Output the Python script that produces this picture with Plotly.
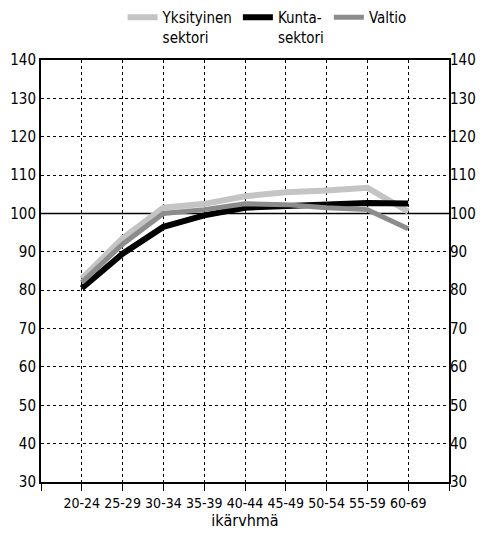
import plotly.graph_objects as go

categories = ["20-24", "25-29", "30-34", "35-39", "40-44", "45-49", "50-54", "55-59", "60-69"]
yksityinen = [83, 93.5, 101.5, 102.5, 104.5, 105.5, 106, 106.7, 100.5]
kunta = [80.5, 89.5, 96.5, 99.5, 101.5, 102, 102.3, 102.7, 102.6]
valtio = [82, 92, 100, 101, 102.5, 102.3, 101.5, 101, 96]
yticks = list(range(30, 141, 10))

xpos = list(range(1, len(categories) + 1))
FONT = "Liberation Sans Narrow, DejaVu Sans Condensed, Arial Narrow, Liberation Sans, Arial, sans-serif"

fig = go.Figure()
fig.add_trace(go.Scatter(x=xpos, y=yksityinen, mode="lines", name="Yksityinen<br>sektori",
                         line=dict(color="#c4c4c4", width=6)))
fig.add_trace(go.Scatter(x=xpos, y=kunta, mode="lines", name="Kunta-<br>sektori",
                         line=dict(color="#000000", width=6)))
fig.add_trace(go.Scatter(x=xpos, y=valtio, mode="lines", name="Valtio",
                         line=dict(color="#8c8c8c", width=5)))
fig.add_trace(go.Scatter(x=xpos, y=kunta, mode="lines", yaxis="y2", showlegend=False,
                         line=dict(width=0), opacity=0, hoverinfo="skip"))

fig.add_hline(y=100, line=dict(color="black", width=1.5), layer="below")

tickvals = [0] + xpos + [len(categories) + 1]
ticktext = [""] + categories + [""]

fig.update_layout(
    width=468, height=522,
    margin=dict(l=33, r=27, t=52, b=48, autoexpand=False),
    paper_bgcolor="white", plot_bgcolor="white",
    font=dict(family=FONT, size=14, color="black"),
    showlegend=True,
    legend=dict(orientation="h", x=0.2, y=1.14, xanchor="left", yanchor="top",
                valign="top", font=dict(size=15), itemwidth=30, tracegroupgap=0,
                bgcolor="rgba(0,0,0,0)"),
    xaxis=dict(range=[0, len(categories) + 1], tickvals=tickvals, ticktext=ticktext,
               showgrid=True, gridcolor="black", griddash="dot", gridwidth=1,
               ticks="outside", ticklen=7, tickcolor="black",
               showline=True, linecolor="black", linewidth=2, mirror=True,
               zeroline=False, tickfont=dict(size=14),
               title=dict(text="ikärvhmä", font=dict(size=16), standoff=10)),
    yaxis=dict(range=[30, 140], tickvals=yticks, showgrid=True, gridcolor="black",
               griddash="dot", gridwidth=1, showline=True, linecolor="black",
               linewidth=2, mirror=True, zeroline=False, ticks="", tickfont=dict(size=15)),
    yaxis2=dict(range=[30, 140], tickvals=yticks, overlaying="y", side="right",
                showgrid=False, zeroline=False, ticks="", tickfont=dict(size=15)),
)

fig.write_html("out.html")
